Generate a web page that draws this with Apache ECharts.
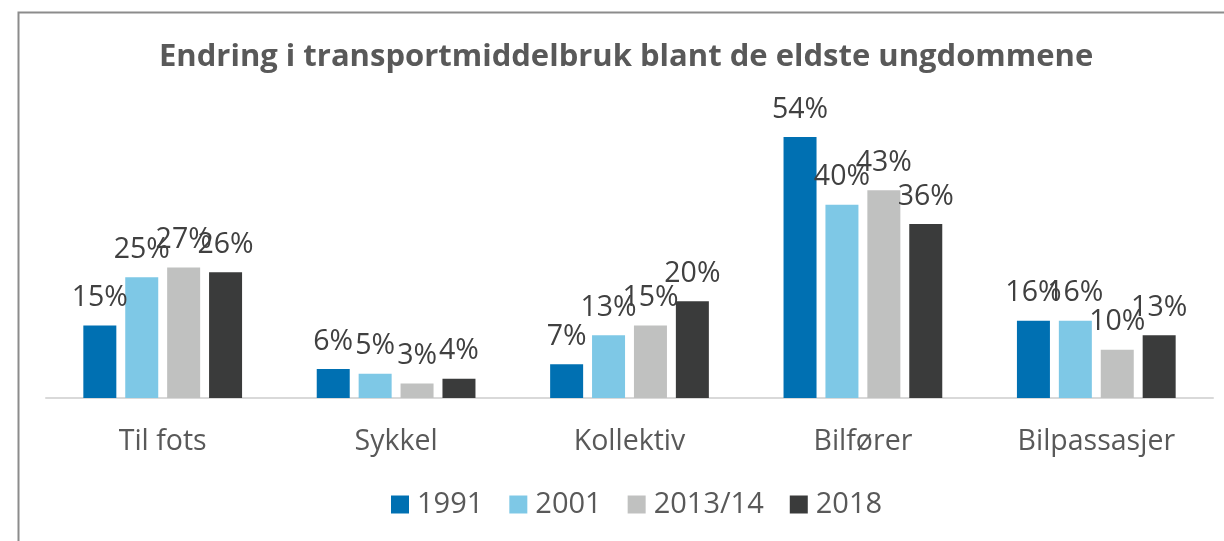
<!DOCTYPE html>
<html>
<head>
<meta charset="utf-8">
<script src="https://cdn.jsdelivr.net/npm/echarts@6/dist/echarts.min.js"></script>
<style>
  html, body { margin: 0; padding: 0; background: #fff; }
  #chart { width: 1224px; height: 541px; }
</style>
</head>
<body>
<div id="chart"></div>
<script>
const categories = ['Til fots', 'Sykkel', 'Kollektiv', 'Bilfører', 'Bilpassasjer']
const years = ['1991', '2001', '2013/14', '2018']
const values1991 = [15, 6, 7, 54, 16]
const values2001 = [25, 5, 13, 40, 16]
const values2013 = [27, 3, 15, 43, 10]
const values2018 = [26, 4, 20, 36, 13]
const colors = ['#0070b2', '#7ec8e6', '#c0c1c0', '#3a3b3b']

const font = '"Open Sans", "Noto Sans", sans-serif'
const allValues = [values1991, values2001, values2013, values2018]

const chart = echarts.init(document.getElementById('chart'))
chart.setOption({
  animation: false,
  color: colors,
  textStyle: { fontFamily: font },
  graphic: [{
    type: 'rect',
    left: 16,
    top: 10,
    shape: { width: 1300, height: 600 },
    style: { fill: 'none', stroke: '#8c8c8c', lineWidth: 2 }
  }],
  title: {
    text: 'Endring i transportmiddelbruk blant de eldste ungdommene',
    left: 154,
    top: 37,
    textStyle: { fontFamily: font, fontSize: 31, fontWeight: 'bold', color: '#595959' }
  },
  legend: {
    bottom: 17,
    left: 386,
    itemWidth: 18,
    itemHeight: 18,
    itemGap: 26,
    icon: 'rect',
    textStyle: { fontFamily: font, fontSize: 29, color: '#595959', padding: [0, 0, 0, 3] }
  },
  grid: { left: 46, right: 11, top: 108, bottom: 143 },
  xAxis: {
    type: 'category',
    data: categories,
    axisLine: { lineStyle: { color: '#d9d9d9', width: 2 } },
    axisTick: { show: false },
    axisLabel: { fontFamily: font, fontSize: 28.5, color: '#595959', margin: 29 }
  },
  yAxis: {
    type: 'value',
    min: 0,
    max: 60,
    show: false,
    splitLine: { show: false }
  },
  series: years.map((y, i) => ({
    name: y,
    type: 'bar',
    data: allValues[i],
    barWidth: 33,
    barGap: '27%',
    label: {
      show: true,
      position: 'top',
      distance: 13,
      formatter: '{c}%',
      fontFamily: font,
      fontSize: 28.5,
      color: '#404040'
    }
  }))
})
</script>
</body>
</html>
